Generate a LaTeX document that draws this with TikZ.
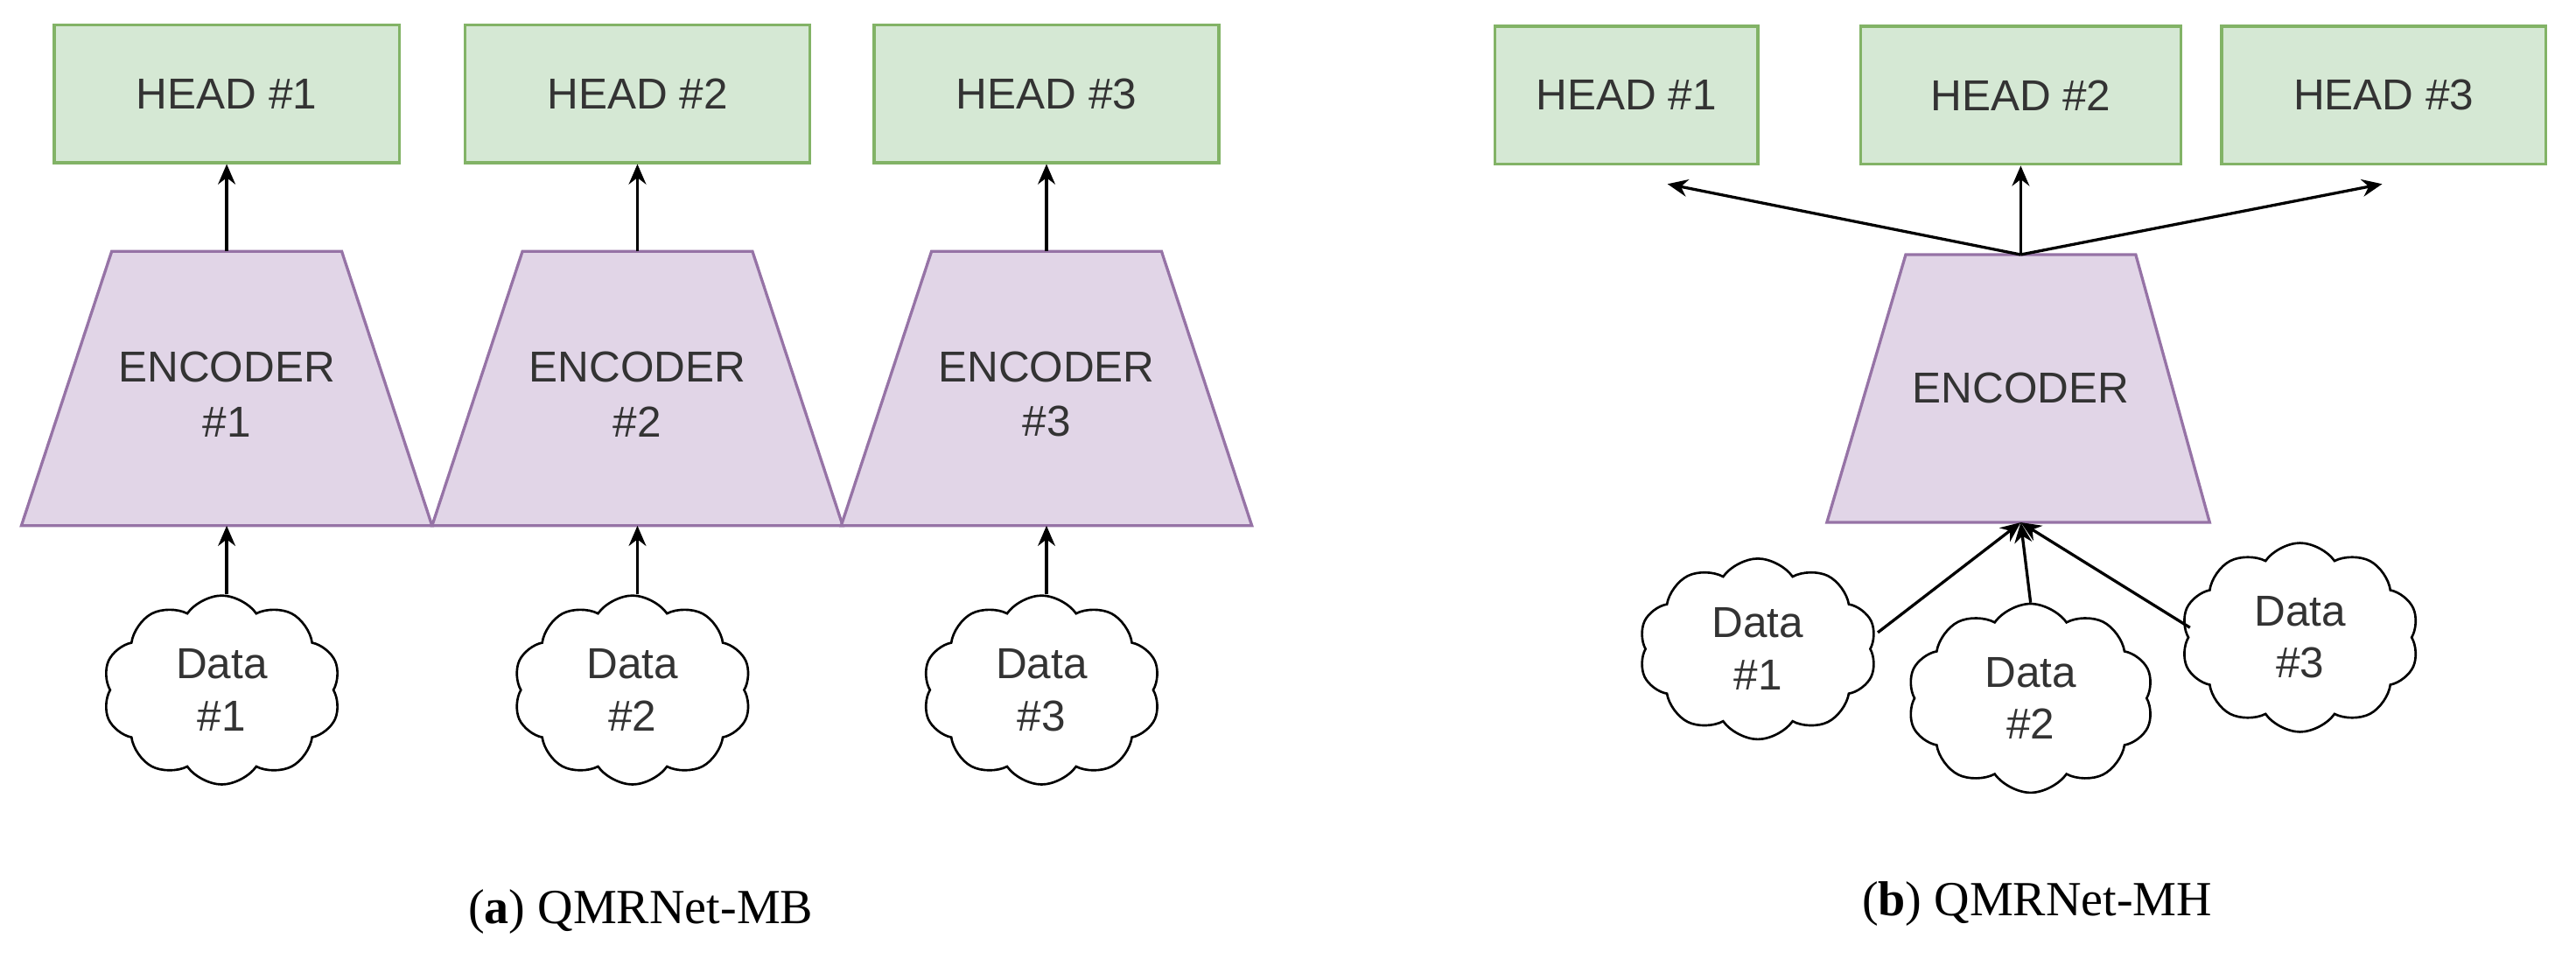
\documentclass[tikz,border=0pt]{standalone}
\usepackage{fontspec}
\setmainfont{Liberation Serif}
\newfontfamily\dsans{Liberation Sans}
\usetikzlibrary{shapes.symbols,arrows.meta}
\definecolor{hfill}{HTML}{D5E8D4}\definecolor{hdraw}{HTML}{82B366}
\definecolor{efill}{HTML}{E1D5E7}\definecolor{edraw}{HTML}{9673A6}
\begin{document}
\begin{tikzpicture}[x=0.02cm,y=-0.02cm,
 head/.style={draw=hdraw,fill=hfill,line width=1pt,minimum height=1.68cm,font=\dsans\fontsize{15}{17}\selectfont,inner sep=0pt,text=black!80},
 enc/.style={draw=edraw,fill=efill,line width=1pt},
 lab/.style={font=\dsans\fontsize{15}{19}\selectfont,align=center,text=black!80},
 data/.style={cloud,cloud puffs=10,cloud puff arc=110,aspect=1.3,draw=black,line width=0.8pt,fill=white,font=\dsans\fontsize{15}{18}\selectfont,align=center,text=black!80,minimum width=2.9cm,minimum height=2.3cm,inner sep=0pt},
 arr/.style={-{Stealth[length=7pt,width=6pt]},line width=1pt}]
\useasboundingbox (0,0) rectangle (1568,588);
% left panel
\foreach \i/\cx in {1/138,2/388,3/637}{
 \node[head,minimum width=4.2cm] (h\i) at (\cx,57) {HEAD \#\i};
 \draw[enc] (\cx-70,153) -- (\cx+70,153) -- (\cx+125,320) -- (\cx-125,320) -- cycle;
 \coordinate (et\i) at (\cx,153); \coordinate (eb\i) at (\cx,320);
 \node[lab] (e\i) at (\cx,240) {ENCODER\\\#\i};
 \node[data] (d\i) at (\cx-3,420) {Data\\\#\i};
 \draw[arr] (et\i) -- (h\i.south -| et\i);
 \draw[arr] (d\i.north -| eb\i) -- (eb\i);
}
\node[font=\fontsize{17}{20}\selectfont] (ca) at (390,555) {(\textbf{a}) QMRNet-MB};
% right panel
\node[head,minimum width=3.2cm] (H1) at (990,58) {HEAD \#1};
\node[head,minimum width=3.9cm] (H2) at (1230,58) {HEAD \#2};
\node[head,minimum width=3.95cm] (H3) at (1451,58) {HEAD \#3};
\draw[enc] (1160,155) -- (1300,155) -- (1345,318) -- (1112,318) -- cycle;
\coordinate (T) at (1230,155); \coordinate (B) at (1230,318);
\node[lab] (E) at (1230,236) {ENCODER};
\node[data,minimum width=2.9cm,minimum height=2.2cm] (D1) at (1070,395) {Data\\\#1};
\node[data,minimum width=2.9cm,minimum height=2.3cm] (D3) at (1400,388) {Data\\\#3};
\node[data,minimum width=3cm,minimum height=2.3cm] (D2) at (1236,425) {Data\\\#2};
\coordinate (a1) at (1015,112); \coordinate (a3) at (1450,112);
\draw[arr] (T) -- (a1);
\draw[arr] (T) -- (H2.south);
\draw[arr] (T) -- (a3);
\draw[arr] (1143,385) -- (B);
\draw[arr] (D2.north) -- (B);
\draw[arr] (1333,382) -- (B);
\node[font=\fontsize{17}{20}\selectfont] (cb) at (1240,550) {(\textbf{b}) QMRNet-MH};
\end{tikzpicture}
\end{document}
